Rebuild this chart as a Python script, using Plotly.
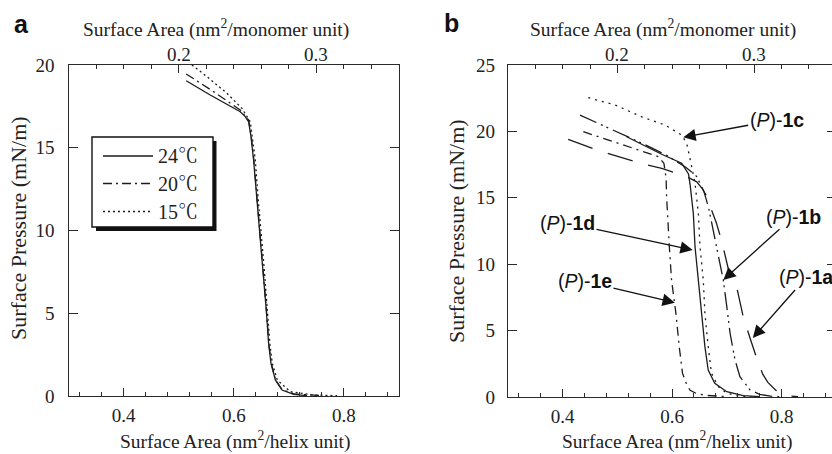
import plotly.graph_objects as go

W, H = 832, 454

# ---------------- Panel a data (temperature dependence) ----------------
a24_x = [0.5136, 0.5573, 0.6118, 0.6209, 0.627, 0.6313, 0.636, 0.6422, 0.6482, 0.653,
         0.659, 0.6633, 0.6676, 0.6755, 0.6876, 0.7088, 0.733]
a24_y = [19.05, 18.19, 17.18, 16.88, 16.57, 15.67, 14.26, 11.84, 9.63, 7.81,
         5.2, 3.18, 1.97, 0.97, 0.36, 0.10, 0.02]
a20_x = [0.5136, 0.5633, 0.6118, 0.627, 0.6318, 0.6365, 0.6425, 0.6485, 0.6533, 0.6593,
         0.6636, 0.668, 0.676, 0.688, 0.71, 0.74, 0.76]
a20_y = [19.46, 18.39, 17.28, 16.68, 15.67, 14.26, 11.84, 9.63, 7.81, 5.2,
         3.18, 1.97, 0.97, 0.38, 0.12, 0.04, 0.02]
a15_x = [0.524, 0.5513, 0.5876, 0.6149, 0.63, 0.634, 0.6391, 0.6445, 0.6505, 0.655,
         0.661, 0.6655, 0.670, 0.679, 0.7027, 0.745, 0.7876]
a15_y = [20.0, 19.3, 18.29, 17.38, 16.57, 15.6, 14.26, 11.84, 9.63, 7.81,
         5.2, 3.18, 1.97, 0.97, 0.26, 0.06, 0.02]
legend_a = ["24℃", "20℃", "15℃"]

# ---------------- Panel b data (compounds) ----------------
b1a_x = [0.410, 0.462, 0.496, 0.547, 0.581, 0.627, 0.645, 0.655, 0.662, 0.670, 0.681,
         0.691, 0.703, 0.718, 0.730, 0.742, 0.758, 0.766, 0.775, 0.790, 0.810, 0.830]
b1a_y = [19.4, 18.6, 18.17, 17.55, 17.22, 16.59, 16.2, 15.7, 15.2, 14.3, 13.1,
         11.7, 9.6, 8.3, 6.05, 4.5, 2.5, 1.7, 1.1, 0.5, 0.1, 0.02]
b1b_x = [0.4316, 0.465, 0.517, 0.5505, 0.59, 0.625, 0.645, 0.658, 0.667, 0.675, 0.6845,
         0.6936, 0.700, 0.706, 0.715, 0.724, 0.742, 0.760, 0.780, 0.800]
b1b_y = [21.23, 20.6, 19.68, 19.0, 18.2, 17.3, 16.6, 15.5, 14.2, 12.6, 10.56,
         8.8, 6.8, 4.8, 2.8, 1.53, 0.55, 0.2, 0.06, 0.02]
b1c_x = [0.4468, 0.4956, 0.5444, 0.587, 0.6175, 0.6267, 0.6327, 0.6388, 0.6419, 0.648,
         0.651, 0.657, 0.660, 0.666, 0.672, 0.6845, 0.700, 0.720, 0.745]
b1c_y = [22.54, 21.99, 21.1, 20.48, 19.73, 19.1, 17.97, 16.7, 16.09, 13.83,
         11.32, 8.81, 6.3, 3.79, 1.78, 0.78, 0.28, 0.08, 0.02]
b1d_x = [0.517, 0.55, 0.58, 0.6175, 0.63, 0.633, 0.6388, 0.6419, 0.648, 0.654, 0.660,
         0.666, 0.678, 0.700, 0.730, 0.760]
b1d_y = [19.6, 18.9, 18.3, 17.6, 16.8, 15.96, 13.83, 11.32, 8.81, 6.3, 3.79,
         2.03, 1.03, 0.4, 0.1, 0.03]
b1e_x = [0.4377, 0.48, 0.53, 0.575, 0.585, 0.589, 0.590, 0.592, 0.595, 0.599, 0.607,
         0.613, 0.619, 0.627, 0.633, 0.645, 0.663, 0.700]
b1e_y = [19.98, 19.4, 18.7, 18.1, 17.6, 16.5, 15.0, 13.0, 11.3, 8.8, 6.3,
         3.8, 1.8, 0.9, 0.5, 0.25, 0.12, 0.03]

b_labels = ["(<i>P</i>)-<b>1a</b>", "(<i>P</i>)-<b>1b</b>", "(<i>P</i>)-<b>1c</b>",
            "(<i>P</i>)-<b>1d</b>", "(<i>P</i>)-<b>1e</b>"]
b_label_x = [0.845, 0.8216, 0.7912, 0.4088, 0.4408]
b_label_y = [9.0, 13.58, 20.86, 13.08, 8.7]
b_tip_x = [0.7475, 0.6936, 0.6205, 0.6377, 0.605]
b_tip_y = [4.45, 8.81, 19.56, 11.07, 7.1]

# top (monomer) axis tick labels
top_tick_vals = [0.2, 0.3]
top_tick_text = ["0.2", "0.3"]

HELIX_PER_MONOMER = 2.5

SERIF = "Liberation Serif, Times New Roman, Noto Serif CJK SC, Noto Sans CJK SC, serif"
SANS = "Liberation Sans, Arial, sans-serif"
AX = "#2a2a2a"
TXT = "#222222"
LINE = "#1c1c1c"


def px_x(p):
    return p / W


def px_y(p):
    return 1 - p / H


fig = go.Figure()

dash_a = ["solid", "9px,4px,2px,4px", "2px,3px"]
for xs, ys, name, d in zip([a24_x, a20_x, a15_x], [a24_y, a20_y, a15_y], legend_a, dash_a):
    fig.add_trace(go.Scatter(x=xs, y=ys, mode="lines", name=name, showlegend=False,
                             line=dict(color=LINE, width=1.3, dash=d), xaxis="x", yaxis="y"))

dash_b = ["26px,16px", "18px,5px,2px,4px,2px,5px", "2px,5px", "solid", "9px,5px,2px,5px"]
names_b = ["1a", "1b", "1c", "1d", "1e"]
for xs, ys, name, d in zip([b1a_x, b1b_x, b1c_x, b1d_x, b1e_x],
                           [b1a_y, b1b_y, b1c_y, b1d_y, b1e_y], names_b, dash_b):
    fig.add_trace(go.Scatter(x=xs, y=ys, mode="lines", name=name, showlegend=False,
                             line=dict(color=LINE, width=1.3, dash=d), xaxis="x2", yaxis="y2"))

# empty traces so the auxiliary axes are drawn
fig.add_trace(go.Scatter(x=[], y=[], xaxis="x3", yaxis="y", showlegend=False))
fig.add_trace(go.Scatter(x=[], y=[], xaxis="x4", yaxis="y2", showlegend=False))
fig.add_trace(go.Scatter(x=[], y=[], xaxis="x2", yaxis="y3", showlegend=False))

TICK_FS = 19
common = dict(showline=True, linecolor=AX, linewidth=1.3, showgrid=False, zeroline=False,
              ticks="inside", tickcolor=AX, tickwidth=1.2, automargin=False,
              tickfont=dict(family=SERIF, size=TICK_FS, color=TXT))
minor_helix = dict(ticks="inside", tick0=0, dtick=0.04, ticklen=4, tickcolor=AX, tickwidth=1.2)
minor_mono = dict(ticks="inside", tick0=0, dtick=0.02, ticklen=4, tickcolor=AX, tickwidth=1.2)

xb_max = 0.3 + (W - 508) / 547.0

fig.update_layout(
    width=W, height=H, margin=dict(l=0, r=0, t=0, b=0),
    paper_bgcolor="white", plot_bgcolor="white", showlegend=False,
    xaxis=dict(**common, domain=[px_x(68.5), px_x(399)], range=[0.3, 0.9], anchor="y",
               tick0=0, dtick=0.2, ticklen=8, minor=minor_helix, mirror=False,
               ticklabelstandoff=2),
    yaxis=dict(**common, domain=[px_y(396), px_y(65)], range=[0, 20], anchor="x",
               tick0=0, dtick=5, ticklen=9, mirror="ticks", ticklabelstandoff=9),
    xaxis3=dict(**common, overlaying="x", side="top", anchor="y",
                range=[0.3 / HELIX_PER_MONOMER, 0.9 / HELIX_PER_MONOMER],
                tick0=0, dtick=0.1, ticklen=8, minor=minor_mono, showticklabels=False),
    xaxis2=dict(**common, domain=[px_x(508), 1.0], range=[0.3, xb_max], anchor="y2",
                tick0=0, dtick=0.2, ticklen=8, minor=minor_helix, mirror=False,
                ticklabelstandoff=2),
    yaxis2=dict(**common, domain=[px_y(397), px_y(65)], range=[0, 25], anchor="x2",
                tick0=0, dtick=5, ticklen=9, mirror=False, ticklabelstandoff=8),
    xaxis4=dict(**common, overlaying="x2", side="top", anchor="y2",
                range=[0.3 / HELIX_PER_MONOMER, xb_max / HELIX_PER_MONOMER],
                tick0=0, dtick=0.1, ticklen=8, minor=minor_mono, showticklabels=False),
    yaxis3=dict(overlaying="y2", side="right", anchor="x2", range=[0, 25], tick0=0, dtick=5,
                ticks="inside", ticklen=5, tickcolor=AX, tickwidth=1.2, showline=False,
                showgrid=False, zeroline=False, showticklabels=False),
)


def paper_text(text, cx, cy, size, family=SERIF, angle=0, color=TXT, xanchor="center"):
    return dict(text=text, x=px_x(cx), y=px_y(cy), xref="paper", yref="paper",
                xanchor=xanchor, yanchor="middle", showarrow=False, textangle=angle,
                font=dict(family=family, size=size, color=color))


ann = []
# top axis tick labels (placed just above the top spine)
for axname in ["x3", "x4"]:
    for v, t in zip(top_tick_vals, top_tick_text):
        ann.append(dict(text=t, x=v, y=px_y(54), xref=axname, yref="paper", xanchor="center",
                        yanchor="middle", showarrow=False,
                        font=dict(family=SERIF, size=TICK_FS, color=TXT)))
for cx in [216, 663]:
    ann.append(paper_text("Surface Area (nm<sup>2</sup>/monomer unit)", cx, 28, 19.5))
for cx in [235, 677]:
    ann.append(paper_text("Surface Area (nm<sup>2</sup>/helix unit)", cx, 440, 19.5))
for cx, cy in [(18, 228), (457, 231)]:
    ann.append(paper_text("Surface Pressure (mN/m)", cx, cy, 22, angle=-90))
for t, cx, cy in [("a", 21.5, 24), ("b", 452, 23)]:
    ann.append(paper_text("<b>%s</b>" % t, cx, cy, 25, family=SANS, color="#111"))

for t, lx, ly, tx, ty in zip(b_labels, b_label_x, b_label_y, b_tip_x, b_tip_y):
    ann.append(dict(text=t, x=tx, y=ty, ax=lx, ay=ly, xref="x2", yref="y2", axref="x2",
                    ayref="y2", xanchor="center", yanchor="middle",
                    showarrow=True, arrowhead=2, arrowsize=1.9, arrowwidth=1.3,
                    arrowcolor="#111", font=dict(family=SANS, size=19.5, color="#111")))

# legend for panel a (box with drop shadow)
shapes = [
    dict(type="rect", xref="paper", yref="paper", x0=px_x(96), x1=px_x(216.5),
         y0=px_y(231), y1=px_y(141), fillcolor="#111", line=dict(width=0), layer="above"),
    dict(type="rect", xref="paper", yref="paper", x0=px_x(92), x1=px_x(213),
         y0=px_y(227), y1=px_y(137), fillcolor="white", line=dict(color="#111", width=1.4),
         layer="above"),
]
rows = [156, 183.5, 211.5]
for name, d, ry in zip(legend_a, dash_a, rows):
    shapes.append(dict(type="line", xref="paper", yref="paper", x0=px_x(103), x1=px_x(153),
                       y0=px_y(ry), y1=px_y(ry), line=dict(color=LINE, width=1.3, dash=d),
                       layer="above"))
    ann.append(paper_text(name, 156, ry, 20, xanchor="left"))

fig.update_layout(annotations=ann, shapes=shapes)

fig.write_html("out.html", config={"displayModeBar": False},
               post_script="document.body.style.margin='0';document.body.style.overflow='hidden';")
